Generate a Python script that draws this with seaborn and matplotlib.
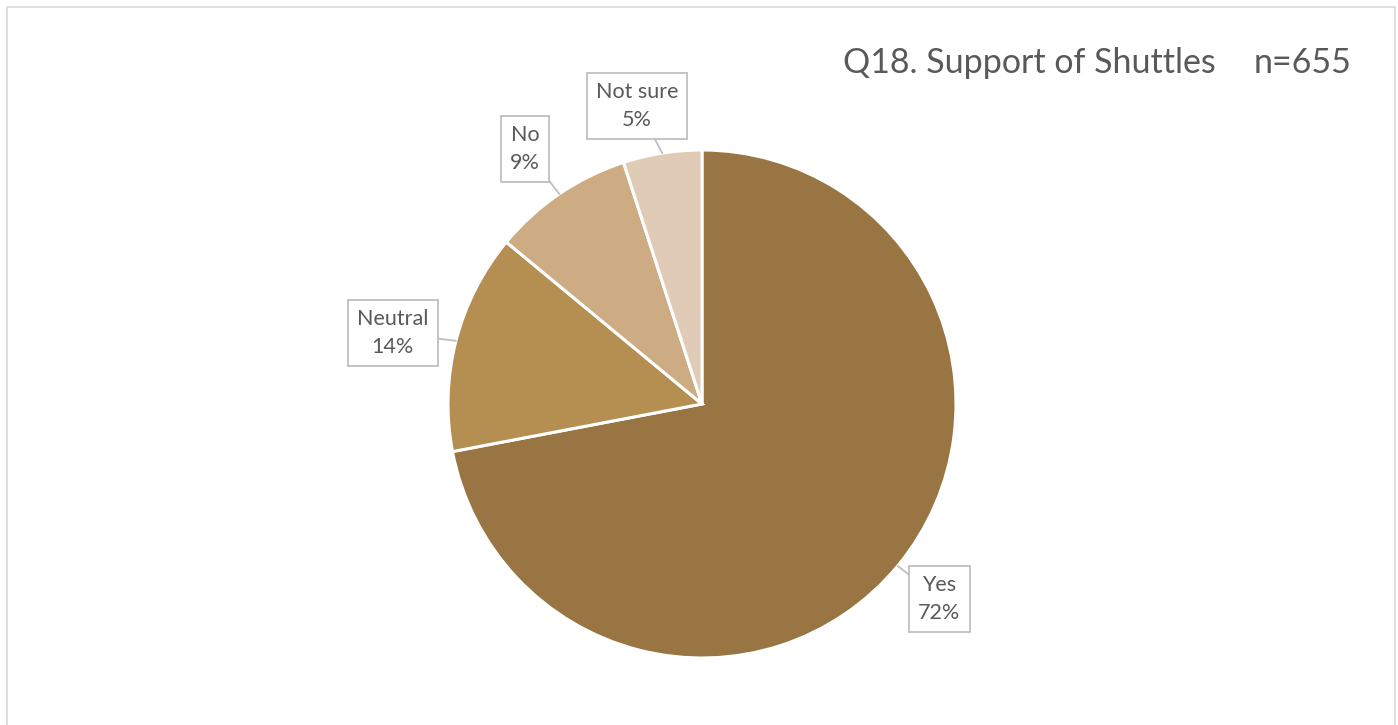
"""Q18 survey pie chart: support of shuttles (n=655)."""

import matplotlib.pyplot as plt
import numpy as np
import seaborn as sns
from matplotlib.patches import Rectangle

# data
categories = ["Yes", "Neutral", "No", "Not sure"]
shares = [72, 14, 9, 5]
colors = ["#987542", "#B58E52", "#CDAC83", "#E0CBB7"]
title_text = "Q18. Support of Shuttles"
n_text = "n=655"

# label box centres, in pie-radius units relative to the centre
label_offsets = [(0.935, -0.766), (-1.217, 0.280), (-0.697, 1.004), (-0.256, 1.175)]

sns.set_theme(style="white")
plt.rcParams["font.family"] = ["Lato", "DejaVu Sans"]

TEXT = "#595959"
W, H = 1398, 725
fig = plt.figure(figsize=(W / 100, H / 100), dpi=100)

# chart area border (bottom edge falls off the picture)
fig.patches.append(
    Rectangle((6.5 / W, -0.05), (1395 - 6.5) / W, 1.05 - 7.5 / H,
              transform=fig.transFigure, fill=False, edgecolor="#D9D9D9", linewidth=1.2)
)

cx, cy, r = 702, 404, 254
ax = fig.add_axes([(cx - r) / W, (H - cy - r) / H, 2 * r / W, 2 * r / H])
wedges, _ = ax.pie(
    shares,
    colors=sns.color_palette(colors),
    startangle=90,
    counterclock=False,
    radius=1,
    wedgeprops={"edgecolor": "white", "linewidth": 2.2},
)
ax.set_xlim(-1, 1)
ax.set_ylim(-1, 1)
ax.set_aspect("equal")
ax.axis("off")

for wedge, cat, val, (lx, ly) in zip(wedges, categories, shares, label_offsets):
    mid = np.deg2rad((wedge.theta1 + wedge.theta2) / 2)
    tip = (np.cos(mid), np.sin(mid))
    ax.annotate(
        f"{cat}\n{val}%",
        xy=tip,
        xytext=(lx, ly),
        ha="center",
        va="center",
        fontsize=15.5,
        color=TEXT,
        linespacing=1.5,
        annotation_clip=False,
        bbox={"boxstyle": "square,pad=0.42", "facecolor": "white",
              "edgecolor": "#BFBFBF", "linewidth": 1.3},
        arrowprops={"arrowstyle": "-", "color": "#BFBFBF", "linewidth": 1.3,
                    "shrinkA": 0, "shrinkB": 0},
    )

fig.text(843 / W, (H - 63) / H, title_text, ha="left", va="center",
         fontsize=24.5, color=TEXT)
fig.text(1352 / W, (H - 63) / H, n_text, ha="right", va="center",
         fontsize=24.5, color=TEXT)

fig.savefig("out.png", dpi=100, facecolor="white")
